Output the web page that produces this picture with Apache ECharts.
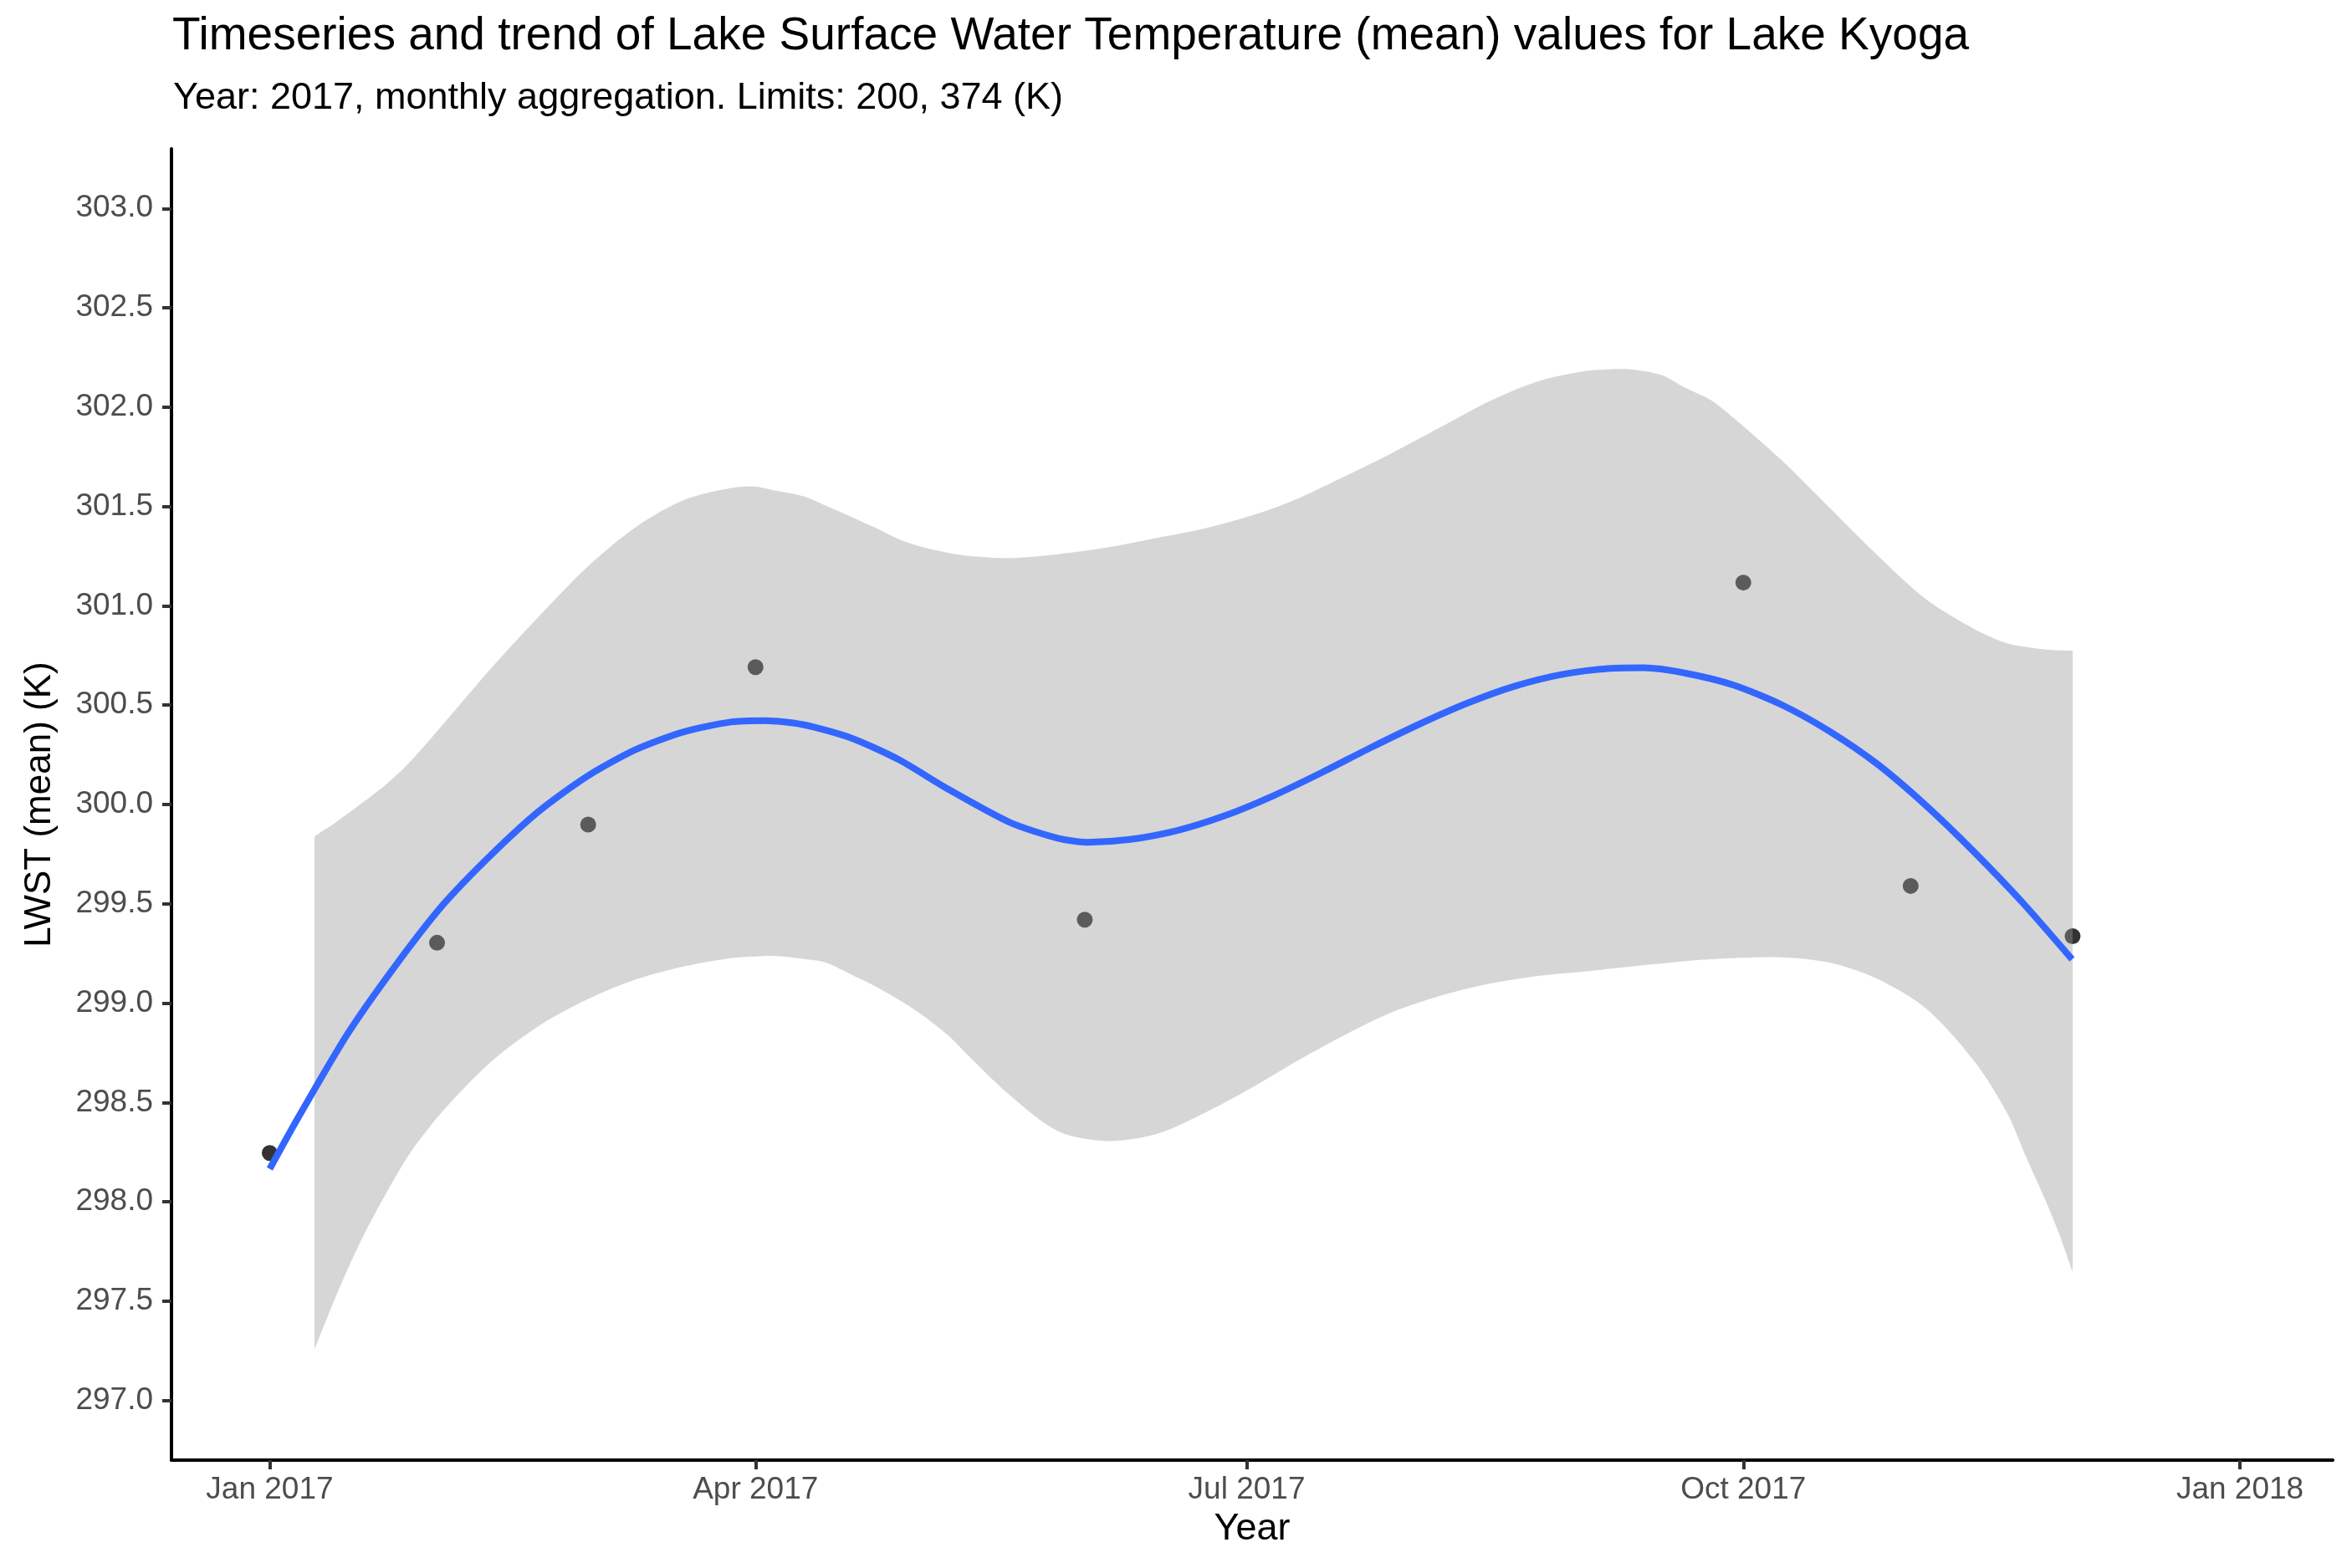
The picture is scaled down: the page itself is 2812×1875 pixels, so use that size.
<!DOCTYPE html>
<html>
<head>
<meta charset="utf-8">
<title>Lake Kyoga LWST 2017</title>
<script src="https://cdn.jsdelivr.net/npm/echarts@6.0.0/dist/echarts.min.js"></script>
<style>
  html, body { margin: 0; padding: 0; background: #fff; }
  #chart { width: 2812px; height: 1875px; }
</style>
</head>
<body>
<div id="chart"></div>
<script>
// monthly observations
var obsDates = ['2017-01-01', '2017-02-01', '2017-03-01', '2017-04-01', '2017-06-01', '2017-10-01', '2017-11-01', '2017-12-01'];
var obsValues = [298.246, 299.304, 299.899, 300.691, 299.420, 301.117, 299.590, 299.337];

// loess trend, x = days since 2017-01-01
var trendDays = [0, 5.4, 14.3, 23.2, 32.1, 41, 49.9, 58.8, 67.7, 76.6, 85.4, 91.7, 98.8, 107.7, 116.6, 125.5, 137.1, 146, 151.4, 159.4,
	168.3, 177.2, 186.1, 195, 203.9, 212.8, 221.7, 230.6, 239.5, 248.4, 254.6, 262.3, 271.2, 280.1, 289, 297.9, 306.8, 315.7, 324.6, 333.9];
var trendValues = [298.166, 298.43, 298.84, 299.185, 299.495, 299.746, 299.967, 300.142, 300.275, 300.365, 300.415, 300.422, 300.402, 300.335, 300.225, 300.08, 299.91, 299.83, 299.81, 299.824,
	299.87, 299.946, 300.046, 300.162, 300.285, 300.402, 300.508, 300.595, 300.655, 300.685, 300.688, 300.661, 300.601, 300.502, 300.368, 300.202, 299.996, 299.763, 299.51, 299.221];

// confidence band
var bandDays = [8.3, 12.5, 17, 21.5, 26, 32, 41, 50, 59, 68, 77, 85.5, 90, 94, 99, 103, 108, 112, 117, 121, 126, 130, 137, 146, 155, 164,
	173, 182, 190.5, 199.5, 208, 217, 226, 235, 244, 250, 253, 258, 262, 267, 271, 280, 289, 298, 307, 316, 322, 325, 329, 331.5, 334];
var bandUpper = [299.84, 299.915, 300.005, 300.10, 300.215, 300.40, 300.685, 300.95, 301.20, 301.40, 301.535, 301.593, 301.60, 301.578, 301.55, 301.505, 301.445, 301.395, 301.33, 301.295, 301.265, 301.25, 301.24, 301.26, 301.293, 301.34,
	301.388, 301.455, 301.54, 301.656, 301.77, 301.90, 302.03, 302.13, 302.182, 302.192, 302.188, 302.16, 302.10, 302.035, 301.95, 301.735, 301.493, 301.25, 301.03, 300.88, 300.81, 300.795, 300.78, 300.776, 300.775];
var bandLower = [297.258, 297.54, 297.81, 298.04, 298.245, 298.455, 298.705, 298.888, 299.021, 299.121, 299.187, 299.227, 299.235, 299.237, 299.222, 299.204, 299.14, 299.088, 299.01, 298.938, 298.83, 298.72, 298.539, 298.356, 298.306, 298.339,
	298.445, 298.575, 298.712, 298.845, 298.955, 299.038, 299.098, 299.137, 299.16, 299.178, 299.187, 299.20, 299.211, 299.221, 299.227, 299.231, 299.204, 299.12, 298.97, 298.70, 298.44, 298.25, 298.006, 297.84, 297.647];

// axis breaks
var tickDays = [0, 90, 181, 273, 365];
var tickLabels = ['Jan 2017', 'Apr 2017', 'Jul 2017', 'Oct 2017', 'Jan 2018'];
var yTicks = [297.0, 297.5, 298.0, 298.5, 299.0, 299.5, 300.0, 300.5, 301.0, 301.5, 302.0, 302.5, 303.0];

var FONT = "'Liberation Sans', Arial, sans-serif";
var DAY = 86400000;
var start = Date.UTC(2017, 0, 1);

var toDay = function (s) {
	var p = s.split('-');
	return Math.round((Date.UTC(+p[0], +p[1] - 1, +p[2]) - start) / DAY);
};

var obsData = obsDates.map(function (d, i) { return [toDay(d), obsValues[i]]; });
var trendData = trendDays.map(function (d, i) { return [d, trendValues[i]]; });

// ribbon drawn as one smoothed polygon: upper edge left->right, lower edge right->left
// end points are pushed twice so the vertical ends stay straight
var renderBand = function (params, api) {
	var n = bandDays.length;
	var pts = [];
	for (var i = 0; i < n; i++) {
		var p = api.coord([bandDays[i], bandUpper[i]]);
		pts.push(p);
		if (i === 0 || i === n - 1) pts.push(p.slice());
	}
	for (var j = n - 1; j >= 0; j--) {
		var q = api.coord([bandDays[j], bandLower[j]]);
		pts.push(q);
		if (j === 0 || j === n - 1) pts.push(q.slice());
	}
	return {
		type: 'polygon',
		shape: { points: pts, smooth: 0.3 },
		style: { fill: 'rgba(153,153,153,0.4)' }
	};
};

var myChart = echarts.init(document.getElementById('chart'), null, { renderer: 'canvas' });

var option = {
	animation: false,
	backgroundColor: '#ffffff',
	textStyle: { fontFamily: FONT },
	title: [{
		text: 'Timeseries and trend of Lake Surface Water Temperature (mean) values for Lake Kyoga',
		left: 206,
		top: 16,
		padding: 0,
		textStyle: { fontFamily: FONT, fontSize: 55, fontWeight: 'normal', color: '#000' }
	}, {
		text: 'Year: 2017, monthly aggregation. Limits: 200, 374 (K)',
		left: 207,
		top: 95,
		padding: 0,
		textStyle: { fontFamily: FONT, fontSize: 45, fontWeight: 'normal', color: '#000' }
	}],
	grid: {
		left: 205,
		right: 23,
		top: 178,
		bottom: 129,
		containLabel: false
	},
	xAxis: {
		type: 'value',
		min: -18.2,
		max: 382.2,
		name: 'Year',
		nameLocation: 'middle',
		nameGap: 60,
		nameTextStyle: { fontFamily: FONT, fontSize: 45, color: '#000' },
		axisLine: { show: true, onZero: false, lineStyle: { color: '#000', width: 4 } },
		axisTick: { show: true, length: 11, customValues: tickDays, lineStyle: { color: '#333', width: 4 } },
		axisLabel: {
			customValues: tickDays,
			margin: 17,
			fontFamily: FONT,
			fontSize: 37,
			color: '#4d4d4d',
			formatter: function (v) {
				var i = tickDays.indexOf(v);
				return i >= 0 ? tickLabels[i] : '';
			}
		},
		splitLine: { show: false }
	},
	yAxis: {
		type: 'value',
		min: 296.7,
		max: 303.3,
		name: 'LWST (mean) (K)',
		nameLocation: 'middle',
		nameGap: 135,
		nameRotate: 90,
		nameTextStyle: { fontFamily: FONT, fontSize: 44, color: '#000' },
		axisLine: { show: true, onZero: false, lineStyle: { color: '#000', width: 4 } },
		axisTick: { show: true, length: 11, customValues: yTicks, lineStyle: { color: '#333', width: 4 } },
		axisLabel: {
			customValues: yTicks,
			margin: 22,
			fontFamily: FONT,
			fontSize: 37,
			color: '#4d4d4d',
			formatter: function (v) { return v.toFixed(1); }
		},
		splitLine: { show: false }
	},
	series: [{
		name: 'observed',
		type: 'scatter',
		z: 1,
		symbol: 'circle',
		symbolSize: 19,
		itemStyle: { color: '#000' },
		emphasis: { disabled: true },
		data: obsData
	}, {
		name: 'band',
		type: 'custom',
		z: 2,
		silent: true,
		renderItem: renderBand,
		data: [[bandDays[0], bandLower[0]]]
	}, {
		name: 'trend',
		type: 'line',
		z: 3,
		smooth: 0.25,
		symbol: 'none',
		lineStyle: { color: '#3366ff', width: 8 },
		emphasis: { disabled: true },
		data: trendData
	}]
};

myChart.setOption(option);
</script>
</body>
</html>
